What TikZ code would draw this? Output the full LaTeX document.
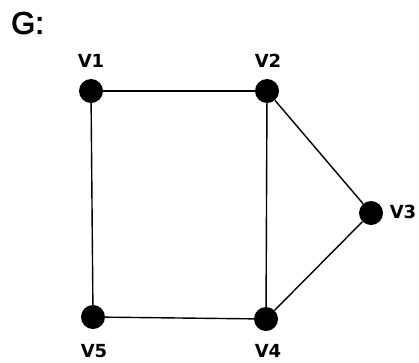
\documentclass[tikz,border=0pt]{standalone}
\usepackage{fontspec}
\setmainfont{Liberation Sans}
\newfontfamily\labelfont{DejaVu Sans}
\newfontfamily\titlefont[FakeBold=3]{Liberation Sans}
\begin{document}
\begin{tikzpicture}[x=1pt,y=-1pt,
  vertex/.style={circle,fill=black,minimum size=24pt,inner sep=0pt},
  vlabel/.style={font=\labelfont\bfseries\fontsize{18}{18}\selectfont,inner sep=0pt},
  edge/.style={line width=1.4pt}]
\useasboundingbox (0,0) rectangle (419,362);
\node[font=\titlefont\fontsize{31}{31}\selectfont,inner sep=0pt,anchor=west] (g) at (11,23) {G:};
\node[vertex] (v1) at (91,91) {};
\node[vertex] (v2) at (267,91) {};
\node[vertex] (v3) at (371,213) {};
\node[vertex] (v4) at (266,319) {};
\node[vertex] (v5) at (93,317) {};
\node[vlabel] (l1) at (91,61) {V1};
\node[vlabel] (l2) at (268,61) {V2};
\node[vlabel] (l3) at (403,212) {V3};
\node[vlabel] (l4) at (268,351) {V4};
\node[vlabel] (l5) at (94,351) {V5};
\draw[edge] (v1) -- (v2);
\draw[edge] (v1) -- (v5);
\draw[edge] (v2) -- (v4);
\draw[edge] (v2) -- (v3);
\draw[edge] (v3) -- (v4);
\draw[edge] (v5) -- (v4);
\end{tikzpicture}
\end{document}
